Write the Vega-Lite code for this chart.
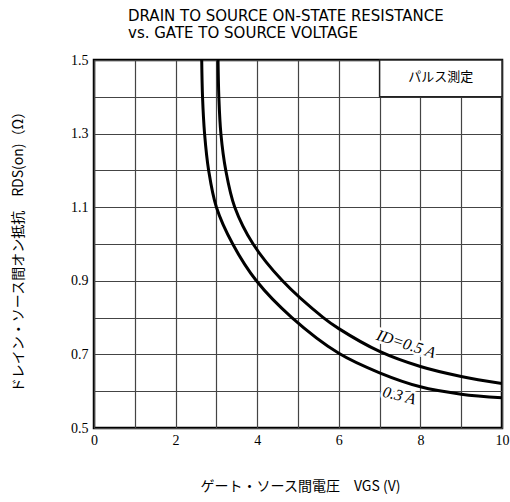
{
  "$schema": "https://vega.github.io/schema/vega-lite/v6.json",
  "autosize": "none",
  "width": 408,
  "height": 368,
  "padding": {"left": 94, "top": 60, "right": 8, "bottom": 74},
  "background": "white",
  "config": {
    "view": {"stroke": "black", "strokeWidth": 2.5},
    "axis": {
      "domain": false,
      "ticks": false,
      "gridColor": "#444",
      "gridWidth": 1.2,
      "gridOpacity": 1,
      "labelFont": "Liberation Serif",
      "labelFontSize": 14,
      "labelColor": "black",
      "titleColor": "black",
      "titleFontWeight": "normal"
    }
  },
  "title": {
    "text": ["DRAIN TO SOURCE ON-STATE RESISTANCE", "vs. GATE TO SOURCE VOLTAGE"],
    "anchor": "start",
    "frame": "group",
    "align": "left",
    "dx": 34,
    "offset": 12,
    "font": "DejaVu Sans",
    "fontSize": 15,
    "fontWeight": "normal",
    "color": "black",
    "lineHeight": 17
  },
  "datasets": {
    "curves": [
      {"Vgs": 2.64, "R": 1.5, "Id": "0.3 A"},
      {"Vgs": 2.66, "R": 1.4, "Id": "0.3 A"},
      {"Vgs": 2.71, "R": 1.3, "Id": "0.3 A"},
      {"Vgs": 2.81, "R": 1.2, "Id": "0.3 A"},
      {"Vgs": 3.0, "R": 1.1, "Id": "0.3 A"},
      {"Vgs": 3.40, "R": 1.0, "Id": "0.3 A"},
      {"Vgs": 3.98, "R": 0.9, "Id": "0.3 A"},
      {"Vgs": 4.85, "R": 0.8, "Id": "0.3 A"},
      {"Vgs": 6.0, "R": 0.703, "Id": "0.3 A"},
      {"Vgs": 7.0, "R": 0.650, "Id": "0.3 A"},
      {"Vgs": 8.0, "R": 0.612, "Id": "0.3 A"},
      {"Vgs": 9.0, "R": 0.592, "Id": "0.3 A"},
      {"Vgs": 10.0, "R": 0.582, "Id": "0.3 A"},
      {"Vgs": 3.04, "R": 1.5, "Id": "0.5 A"},
      {"Vgs": 3.06, "R": 1.4, "Id": "0.5 A"},
      {"Vgs": 3.11, "R": 1.3, "Id": "0.5 A"},
      {"Vgs": 3.23, "R": 1.2, "Id": "0.5 A"},
      {"Vgs": 3.45, "R": 1.1, "Id": "0.5 A"},
      {"Vgs": 3.90, "R": 1.0, "Id": "0.5 A"},
      {"Vgs": 4.62, "R": 0.9, "Id": "0.5 A"},
      {"Vgs": 5.62, "R": 0.8, "Id": "0.5 A"},
      {"Vgs": 6.0, "R": 0.77, "Id": "0.5 A"},
      {"Vgs": 7.0, "R": 0.708, "Id": "0.5 A"},
      {"Vgs": 8.0, "R": 0.667, "Id": "0.5 A"},
      {"Vgs": 9.0, "R": 0.640, "Id": "0.5 A"},
      {"Vgs": 10.0, "R": 0.621, "Id": "0.5 A"}
    ],
    "labels": [
      {"Vgs": 7.65, "R": 0.728, "text": "ID=0.5 A", "angle": 18},
      {"Vgs": 7.48, "R": 0.588, "text": "0.3 A", "angle": 14}
    ],
    "box": [
      {"x1": 7, "x2": 10, "y1": 1.4, "y2": 1.5, "Vgs": 8.5, "R": 1.455, "text": "パルス測定"}
    ]
  },
  "encoding": {
    "x": {
      "field": "Vgs",
      "type": "quantitative",
      "scale": {"domain": [0, 10], "nice": false, "zero": false},
      "axis": {
        "values": [0, 1, 2, 3, 4, 5, 6, 7, 8, 9, 10],
        "labelExpr": "datum.value % 2 == 0 ? datum.label : ''",
        "labelPadding": 5,
        "labelFlush": false,
        "title": "ゲート・ソース間電圧　VGS (V)",
        "titleFont": "Noto Sans CJK JP",
        "titleFontSize": 14,
        "titleX": 206,
        "titleY": 58,
        "titleBaseline": "middle",
        "titleAlign": "center"
      }
    },
    "y": {
      "field": "R",
      "type": "quantitative",
      "scale": {"domain": [0.5, 1.5], "nice": false, "zero": false},
      "axis": {
        "values": [0.5, 0.6, 0.7, 0.8, 0.9, 1.0, 1.1, 1.2, 1.3, 1.4, 1.5],
        "format": ".1f",
        "labelExpr": "indexof(['0.5','0.7','0.9','1.1','1.3','1.5'], datum.label) >= 0 ? datum.label : ''",
        "labelPadding": 6,
        "labelFlush": false,
        "title": "ドレイン・ソース間オン抵抗　RDS(on)（Ω）",
        "titleFont": "Noto Sans CJK JP",
        "titleFontSize": 14,
        "titleAngle": -90,
        "titleX": -76,
        "titleY": 188,
        "titleBaseline": "middle",
        "titleAlign": "center"
      }
    }
  },
  "layer": [
    {
      "data": {"name": "box"},
      "mark": {"type": "rect", "fill": "white", "stroke": "#222", "strokeWidth": 1.5},
      "encoding": {
        "x": {"field": "x1", "type": "quantitative"},
        "x2": {"field": "x2"},
        "y": {"field": "y1", "type": "quantitative"},
        "y2": {"field": "y2"}
      }
    },
    {
      "data": {"name": "box"},
      "mark": {"type": "text", "font": "Noto Sans CJK JP", "fontSize": 13, "color": "black", "baseline": "middle"},
      "encoding": {"text": {"field": "text"}}
    },
    {
      "data": {"name": "labels"},
      "mark": {"type": "text", "font": "Liberation Serif", "fontStyle": "italic", "fontSize": 16, "fill": "white", "stroke": "white", "strokeWidth": 5, "baseline": "middle"},
      "encoding": {"text": {"field": "text"}, "angle": {"field": "angle", "type": "quantitative", "scale": null}}
    },
    {
      "data": {"name": "curves"},
      "mark": {"type": "line", "interpolate": "catmull-rom", "color": "black", "strokeWidth": 3, "clip": true},
      "encoding": {"detail": {"field": "Id"}}
    },
    {
      "data": {"name": "labels"},
      "mark": {"type": "text", "font": "Liberation Serif", "fontStyle": "italic", "fontSize": 16, "color": "black", "baseline": "middle"},
      "encoding": {"text": {"field": "text"}, "angle": {"field": "angle", "type": "quantitative", "scale": null}}
    }
  ]
}
